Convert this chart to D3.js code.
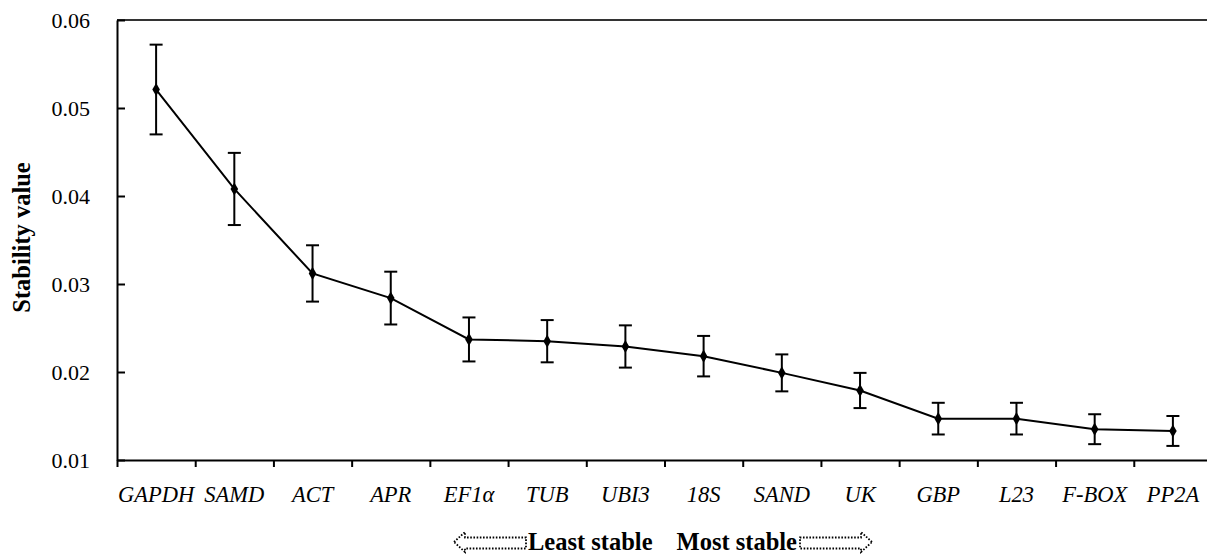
<!DOCTYPE html>
<html>
<head>
<meta charset="utf-8">
<script src="https://cdn.jsdelivr.net/npm/d3@7"></script>
<style>
  html, body { margin: 0; padding: 0; background: #fff; }
  svg { display: block; }
  text { font-family: "Liberation Serif", "Times New Roman", serif; fill: #000; }
</style>
</head>
<body>
<svg id="chart" width="1207" height="555"></svg>
<script>
const genes = ["GAPDH", "SAMD", "ACT", "APR", "EF1α", "TUB", "UBI3", "18S", "SAND", "UK", "GBP", "L23", "F-BOX", "PP2A"];
const stability = [0.0521, 0.0408, 0.0312, 0.0284, 0.0237, 0.0235, 0.0229, 0.0218, 0.0199, 0.0179, 0.0147, 0.0147, 0.0135, 0.0133];
const errors = [0.0051, 0.0041, 0.0032, 0.0030, 0.0025, 0.0024, 0.0024, 0.0023, 0.0021, 0.0020, 0.0018, 0.0018, 0.0017, 0.0017];
const yTicks = [0.01, 0.02, 0.03, 0.04, 0.05, 0.06];

const svg = d3.select("#chart");
const mLeft = 117, mRight = 1212, mTop = 20, mBottom = 460;

const x = d3.scaleBand().domain(genes).range([mLeft, mRight]).padding(0);
const y = d3.scaleLinear().domain([0.01, 0.06]).range([mBottom, mTop]);

// top border
svg.append("line")
  .attr("x1", mLeft).attr("x2", 1207)
  .attr("y1", y(0.06)).attr("y2", y(0.06))
  .attr("stroke", "#333").attr("stroke-width", 2);

// Y axis
const yAxis = svg.append("g")
  .attr("transform", `translate(${mLeft},0)`)
  .call(d3.axisLeft(y).tickValues(yTicks).tickFormat(d3.format(".2f")).tickSizeInner(-8).tickSizeOuter(0).tickPadding(27));
yAxis.select(".domain").attr("stroke", "#000").attr("stroke-width", 2);
yAxis.selectAll(".tick line").attr("stroke", "#000").attr("stroke-width", 2);
yAxis.selectAll(".tick text").style("font-family", "Liberation Serif").style("font-size", "22px");

// X axis: ticks at band boundaries
const xLin = d3.scaleLinear().domain([0, genes.length]).range([mLeft, mRight]);
const xAxis = svg.append("g")
  .attr("transform", `translate(0,${mBottom})`)
  .call(d3.axisBottom(xLin).tickValues(d3.range(genes.length + 1)).tickFormat("").tickSizeInner(7).tickSizeOuter(0));
xAxis.select(".domain").attr("stroke", "#000").attr("stroke-width", 2);
xAxis.selectAll(".tick line").attr("stroke", "#000").attr("stroke-width", 2);

// X labels
svg.append("g").selectAll("text")
  .data(genes).join("text")
  .attr("x", d => x(d) + x.bandwidth() / 2)
  .attr("y", 502)
  .attr("text-anchor", "middle")
  .style("font-size", "22.5px")
  .style("font-style", "italic")
  .text(d => d);

// Y title
svg.append("text")
  .attr("transform", `translate(30,237.5) rotate(-90)`)
  .attr("text-anchor", "middle")
  .style("font-size", "24.5px")
  .style("font-weight", "bold")
  .text("Stability value");

// Data
const data = genes.map((g, i) => ({ g, v: stability[i], e: errors[i] }));
const cx = d => x(d.g) + x.bandwidth() / 2;

// error bars
const eb = svg.append("g").attr("stroke", "#000").attr("stroke-width", 2);
eb.selectAll("line.v").data(data).join("line").attr("class", "v")
  .attr("x1", cx).attr("x2", cx)
  .attr("y1", d => y(d.v + d.e)).attr("y2", d => y(d.v - d.e));
eb.selectAll("line.t").data(data).join("line").attr("class", "t")
  .attr("x1", d => cx(d) - 6.5).attr("x2", d => cx(d) + 6.5)
  .attr("y1", d => y(d.v + d.e)).attr("y2", d => y(d.v + d.e));
eb.selectAll("line.b").data(data).join("line").attr("class", "b")
  .attr("x1", d => cx(d) - 6.5).attr("x2", d => cx(d) + 6.5)
  .attr("y1", d => y(d.v - d.e)).attr("y2", d => y(d.v - d.e));

// line
svg.append("path")
  .datum(data)
  .attr("fill", "none")
  .attr("stroke", "#000")
  .attr("stroke-width", 2)
  .attr("d", d3.line().x(cx).y(d => y(d.v)));

// markers
svg.append("g").selectAll("path")
  .data(data).join("path")
  .attr("transform", d => `translate(${cx(d)},${y(d.v)})`)
  .attr("d", d3.symbol().type(d3.symbolDiamond).size(50))
  .attr("fill", "#000");

// Bottom annotation
const ann = svg.append("g");
ann.append("text")
  .attr("x", 528).attr("y", 550)
  .style("font-size", "24.5px").style("font-weight", "bold")
  .text("Least stable");
ann.append("text")
  .attr("x", 797).attr("y", 550)
  .attr("text-anchor", "end")
  .style("font-size", "24.5px").style("font-weight", "bold")
  .text("Most stable");

const arrowStyle = s => s.attr("fill", "none").attr("stroke", "#000")
  .attr("stroke-width", 1.8).attr("stroke-dasharray", "1.6,1.6");
// left arrow
ann.append("path")
  .attr("d", "M454,542 L465,532 L465,537.5 L526,537.5 L526,548.5 L465,548.5 L465,552 Z")
  .call(arrowStyle);
// right arrow
ann.append("path")
  .attr("d", "M872,542 L861,532 L861,537.5 L800,537.5 L800,548.5 L861,548.5 L861,552 Z")
  .call(arrowStyle);
</script>
</body>
</html>
